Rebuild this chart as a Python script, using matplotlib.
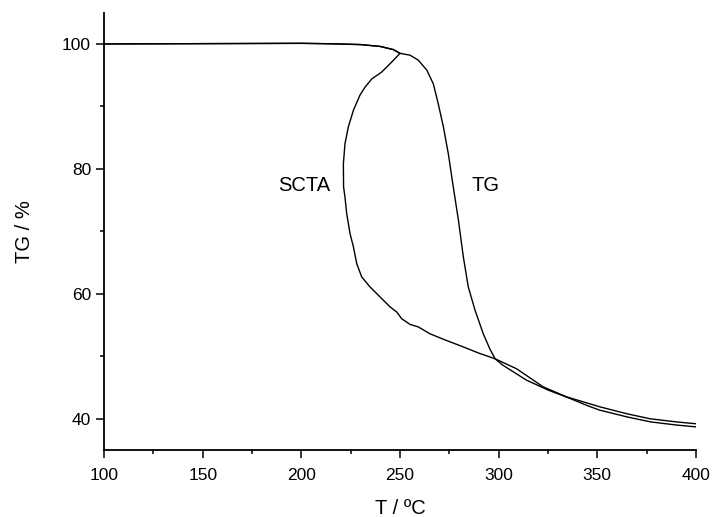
import numpy as np
import matplotlib
matplotlib.use('Agg')
import matplotlib.pyplot as plt
from matplotlib.ticker import MultipleLocator

plt.rcParams['font.family'] = ['Liberation Sans', 'DejaVu Sans']

# conventional TG curve
tg_T = [100, 150, 200, 215, 230, 240, 246.6, 250, 255.1, 259.3, 263.6, 266.9,
        269.4, 272.0, 274.5, 277.0, 279.6, 282.1, 284.6, 288.0, 292.2, 295.5,
        298.2, 302, 308, 314, 325, 335, 345, 351, 365, 377, 390, 400]
tg_w = [100.0, 100.05, 100.1, 100.03, 99.9, 99.6, 99.1, 98.5, 98.2, 97.4,
        95.8, 93.6, 90.4, 86.7, 82.4, 77.1, 71.8, 65.9, 61.1, 57.4, 53.6,
        51.2, 49.6, 48.6, 47.4, 46.2, 44.6, 43.4, 42.1, 41.4, 40.3, 39.5,
        39.0, 38.7]

# SCTA curve (loops back in temperature)
scta_T = [100, 150, 200, 215, 230, 240, 246.6, 250, 245.8, 240.7, 235.7,
          232.3, 229.7, 226.4, 223.8, 222.1, 221.3, 221.4, 222.1, 223.0,
          224.7, 226.4, 228.1, 230.6, 234.8, 239.9, 245.0, 248.3, 250.9,
          255.1, 259.3, 265.2, 273, 282.1, 290, 298.2, 309.1, 322.6, 334.5,
          351.4, 365, 376.7, 390, 400]
scta_w = [100.0, 100.05, 100.1, 100.03, 99.9, 99.6, 99.1, 98.5, 97.1, 95.5,
          94.4, 93.1, 91.8, 89.4, 86.7, 84.0, 80.8, 77.1, 75.5, 72.8, 69.6,
          67.5, 64.8, 62.7, 61.1, 59.5, 57.9, 57.1, 56.0, 55.1, 54.7, 53.6,
          52.6, 51.5, 50.5, 49.6, 48.0, 45.1, 43.5, 41.9, 40.8, 40.0, 39.5,
          39.2]

fig = plt.figure(figsize=(7.15, 5.17), dpi=100)
ax = fig.add_axes([0.1455, 0.1296, 0.8279, 0.8458])

ax.plot(tg_T, tg_w, color='black', lw=1.0)
ax.plot(scta_T, scta_w, color='black', lw=1.0)

ax.text(201.5, 77.4, 'SCTA', fontsize=14.5, ha='center', va='center')
ax.text(293.2, 77.4, 'TG', fontsize=14.5, ha='center', va='center')

ax.set_xlim(100, 400)
ax.set_ylim(35, 105)
ax.xaxis.set_major_locator(MultipleLocator(50))
ax.xaxis.set_minor_locator(MultipleLocator(25))
ax.yaxis.set_minor_locator(MultipleLocator(10))
ax.set_yticks([40, 60, 80, 100])

for s in ['top', 'right']:
    ax.spines[s].set_visible(False)
for s in ['left', 'bottom']:
    ax.spines[s].set_linewidth(1.3)

ax.tick_params(which='major', length=5.8, width=1.1, labelsize=12.5, direction='out')
ax.tick_params(which='minor', length=3.2, width=1.1, direction='out')
ax.tick_params(axis='x', which='major', pad=7)

ax.set_xlabel('T / ºC', fontsize=14.5, labelpad=12)
ax.set_ylabel('TG / %', fontsize=14.5, labelpad=20)

fig.savefig('out.png', dpi=100)
